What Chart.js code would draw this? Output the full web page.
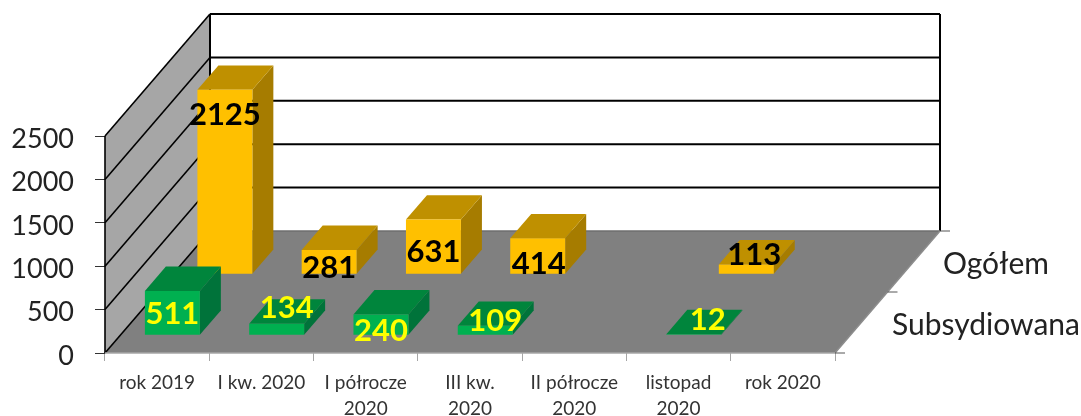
<!DOCTYPE html>
<html>
<head>
<meta charset="utf-8">
<style>
  body { margin: 0; background: #fff; }
</style>
<script src="https://cdn.jsdelivr.net/npm/chart.js@4"></script>
</head>
<body>
<canvas id="chart" width="1081" height="416"></canvas>
<script>
const categories = ['rok 2019', 'I kw. 2020', ['I półrocze', '2020'], ['III kw.', '2020'], ['II półrocze', '2020'], ['listopad', '2020'], 'rok 2020'];
const subsydiowana = [511, 134, 240, 109, null, 12, null];
const ogolem = [2125, 281, 631, 414, null, 113, null];
const seriesNames = ['Subsydiowana', 'Ogółem'];
const yTicks = [0, 500, 1000, 1500, 2000, 2500];

// 3D look: how far the floor goes back, where each row sits on it
const depth = { x: 105, y: -122 };
const rows = [
  { at: 0.145, top: '#00853C', side: '#00733A', text: '#FFFF00' },
  { at: 0.645, top: '#BF9000', side: '#A67C00', text: '#000000' }
];
const barDepth = 0.2;
// nudges for value labels, same order as the data
const labelNudge = [
  [[0, 23], [10, -16], [0, 17], [10, -5], null, [14, -14], null],
  [[0, 25], [0, 18], [0, 32], [1, 26], null, [8, -10], null]
];

function quad(ctx, pts, fill) {
  ctx.beginPath();
  pts.forEach((p, i) => (i ? ctx.lineTo(p[0], p[1]) : ctx.moveTo(p[0], p[1])));
  ctx.closePath();
  ctx.fillStyle = fill;
  ctx.fill();
}

function line(ctx, x1, y1, x2, y2, color, width) {
  ctx.beginPath();
  ctx.moveTo(x1, y1);
  ctx.lineTo(x2, y2);
  ctx.strokeStyle = color;
  ctx.lineWidth = width;
  ctx.stroke();
}

const fakeDepth = {
  id: 'fakeDepth',
  beforeDatasetsDraw(chart) {
    const { ctx, chartArea: a, scales } = chart;
    const y = scales.y;
    const bx = depth.x, by = depth.y;
    ctx.save();
    // left wall and floor
    quad(ctx, [[a.left, a.top], [a.left + bx, a.top + by], [a.left + bx, a.bottom + by], [a.left, a.bottom]], '#A6A6A6');
    quad(ctx, [[a.left, a.bottom], [a.left + bx, a.bottom + by], [a.right + bx, a.bottom + by], [a.right, a.bottom]], '#808080');
    // gridlines over both walls
    yTicks.forEach(v => {
      const py = y.getPixelForValue(v);
      line(ctx, a.left, py, a.left + bx, py + by, '#000', 1.6);
      if (v > 0) line(ctx, a.left + bx, py + by, a.right + bx, py + by, '#000', 2);
    });
    line(ctx, a.left, a.top, a.left, a.bottom, '#000', 1.6);
    line(ctx, a.left + bx, a.top + by, a.left + bx, a.bottom + by, '#000', 2);
    line(ctx, a.right + bx, a.top + by, a.right + bx, a.bottom + by, '#000', 2);
    line(ctx, a.left + bx, a.bottom + by, a.right + bx, a.bottom + by, '#6E6E6E', 1.5);
    line(ctx, a.right, a.bottom, a.right + bx, a.bottom + by, '#8C8C8C', 1.5);
    line(ctx, a.left, a.bottom, a.right, a.bottom, '#A6A6A6', 1.5);
    // depth axis ticks and series names
    [0, 0.5, 1].forEach(t => {
      const px = a.right + bx * t, py = a.bottom + by * t;
      line(ctx, px, py, px + 10, py, '#555', 1);
    });
    ctx.restore();
  },
  beforeDatasetDraw(chart, args) {
    const { ctx } = chart;
    const row = rows[args.index];
    const ox = depth.x * row.at, oy = depth.y * row.at;
    const dx = depth.x * barDepth, dy = depth.y * barDepth;
    ctx.save();
    ctx.translate(ox, oy);
    args.meta.data.forEach((bar, i) => {
      if (chart.data.datasets[args.index].data[i] == null) return;
      const p = bar.getProps(['x', 'y', 'base', 'width'], true);
      const l = p.x - p.width / 2, r = p.x + p.width / 2;
      quad(ctx, [[r, p.y], [r + dx, p.y + dy], [r + dx, p.base + dy], [r, p.base]], row.side);
      quad(ctx, [[l, p.y], [l + dx, p.y + dy], [r + dx, p.y + dy], [r, p.y]], row.top);
    });
  },
  afterDatasetDraw(chart) {
    chart.ctx.restore();
  },
  afterDatasetsDraw(chart) {
    const { ctx, chartArea: a } = chart;
    ctx.save();
    ctx.textAlign = 'center';
    ctx.textBaseline = 'middle';
    ctx.font = 'bold 31px Lato';
    rows.forEach((row, d) => {
      const meta = chart.getDatasetMeta(d);
      meta.data.forEach((bar, i) => {
        const v = chart.data.datasets[d].data[i];
        if (v == null) return;
        const p = bar.getProps(['x', 'y'], true);
        const n = labelNudge[d][i];
        ctx.fillStyle = row.text;
        ctx.fillText(String(v), p.x + depth.x * row.at + n[0], p.y + depth.y * row.at + n[1]);
      });
    });
    ctx.font = '30px Lato';
    ctx.fillStyle = '#222';
    ctx.fillText(seriesNames[0], a.right + 151, a.bottom - 28);
    ctx.fillText(seriesNames[1], a.right + 161, a.bottom - 89);
    ctx.restore();
  }
};

new Chart(document.getElementById('chart'), {
  type: 'bar',
  data: {
    labels: categories,
    datasets: [
      { label: seriesNames[0], data: subsydiowana, backgroundColor: '#00B050', clip: false },
      { label: seriesNames[1], data: ogolem, backgroundColor: '#FFC000', clip: false }
    ]
  },
  options: {
    responsive: false,
    animation: false,
    layout: { padding: { top: 136, right: 246 } },
    plugins: { legend: { display: false }, tooltip: { enabled: false } },
    datasets: { bar: { grouped: false, categoryPercentage: 1, barPercentage: 0.527 } },
    scales: {
      x: {
        grid: { drawOnChartArea: false, tickLength: 8, color: '#A6A6A6', lineWidth: 1 },
        border: { display: false },
        ticks: {
          autoSkip: false,
          maxRotation: 0,
          padding: 9,
          color: '#333',
          font: { family: 'Lato', size: 19, lineHeight: 1.37 }
        },
        afterFit(scale) { scale.height = 63; }
      },
      y: {
        min: 0,
        max: 2500,
        afterBuildTicks(scale) { scale.ticks = yTicks.map(value => ({ value })); },
        grid: { drawOnChartArea: false, tickLength: 10, color: '#333', lineWidth: 1 },
        border: { display: false },
        ticks: {
          padding: 21,
          labelOffset: 3,
          color: '#222',
          font: { family: 'Lato', size: 27 },
          callback: value => String(value)
        },
        afterFit(scale) { scale.width = 105; }
      }
    }
  },
  plugins: [fakeDepth]
});
</script>
</body>
</html>
